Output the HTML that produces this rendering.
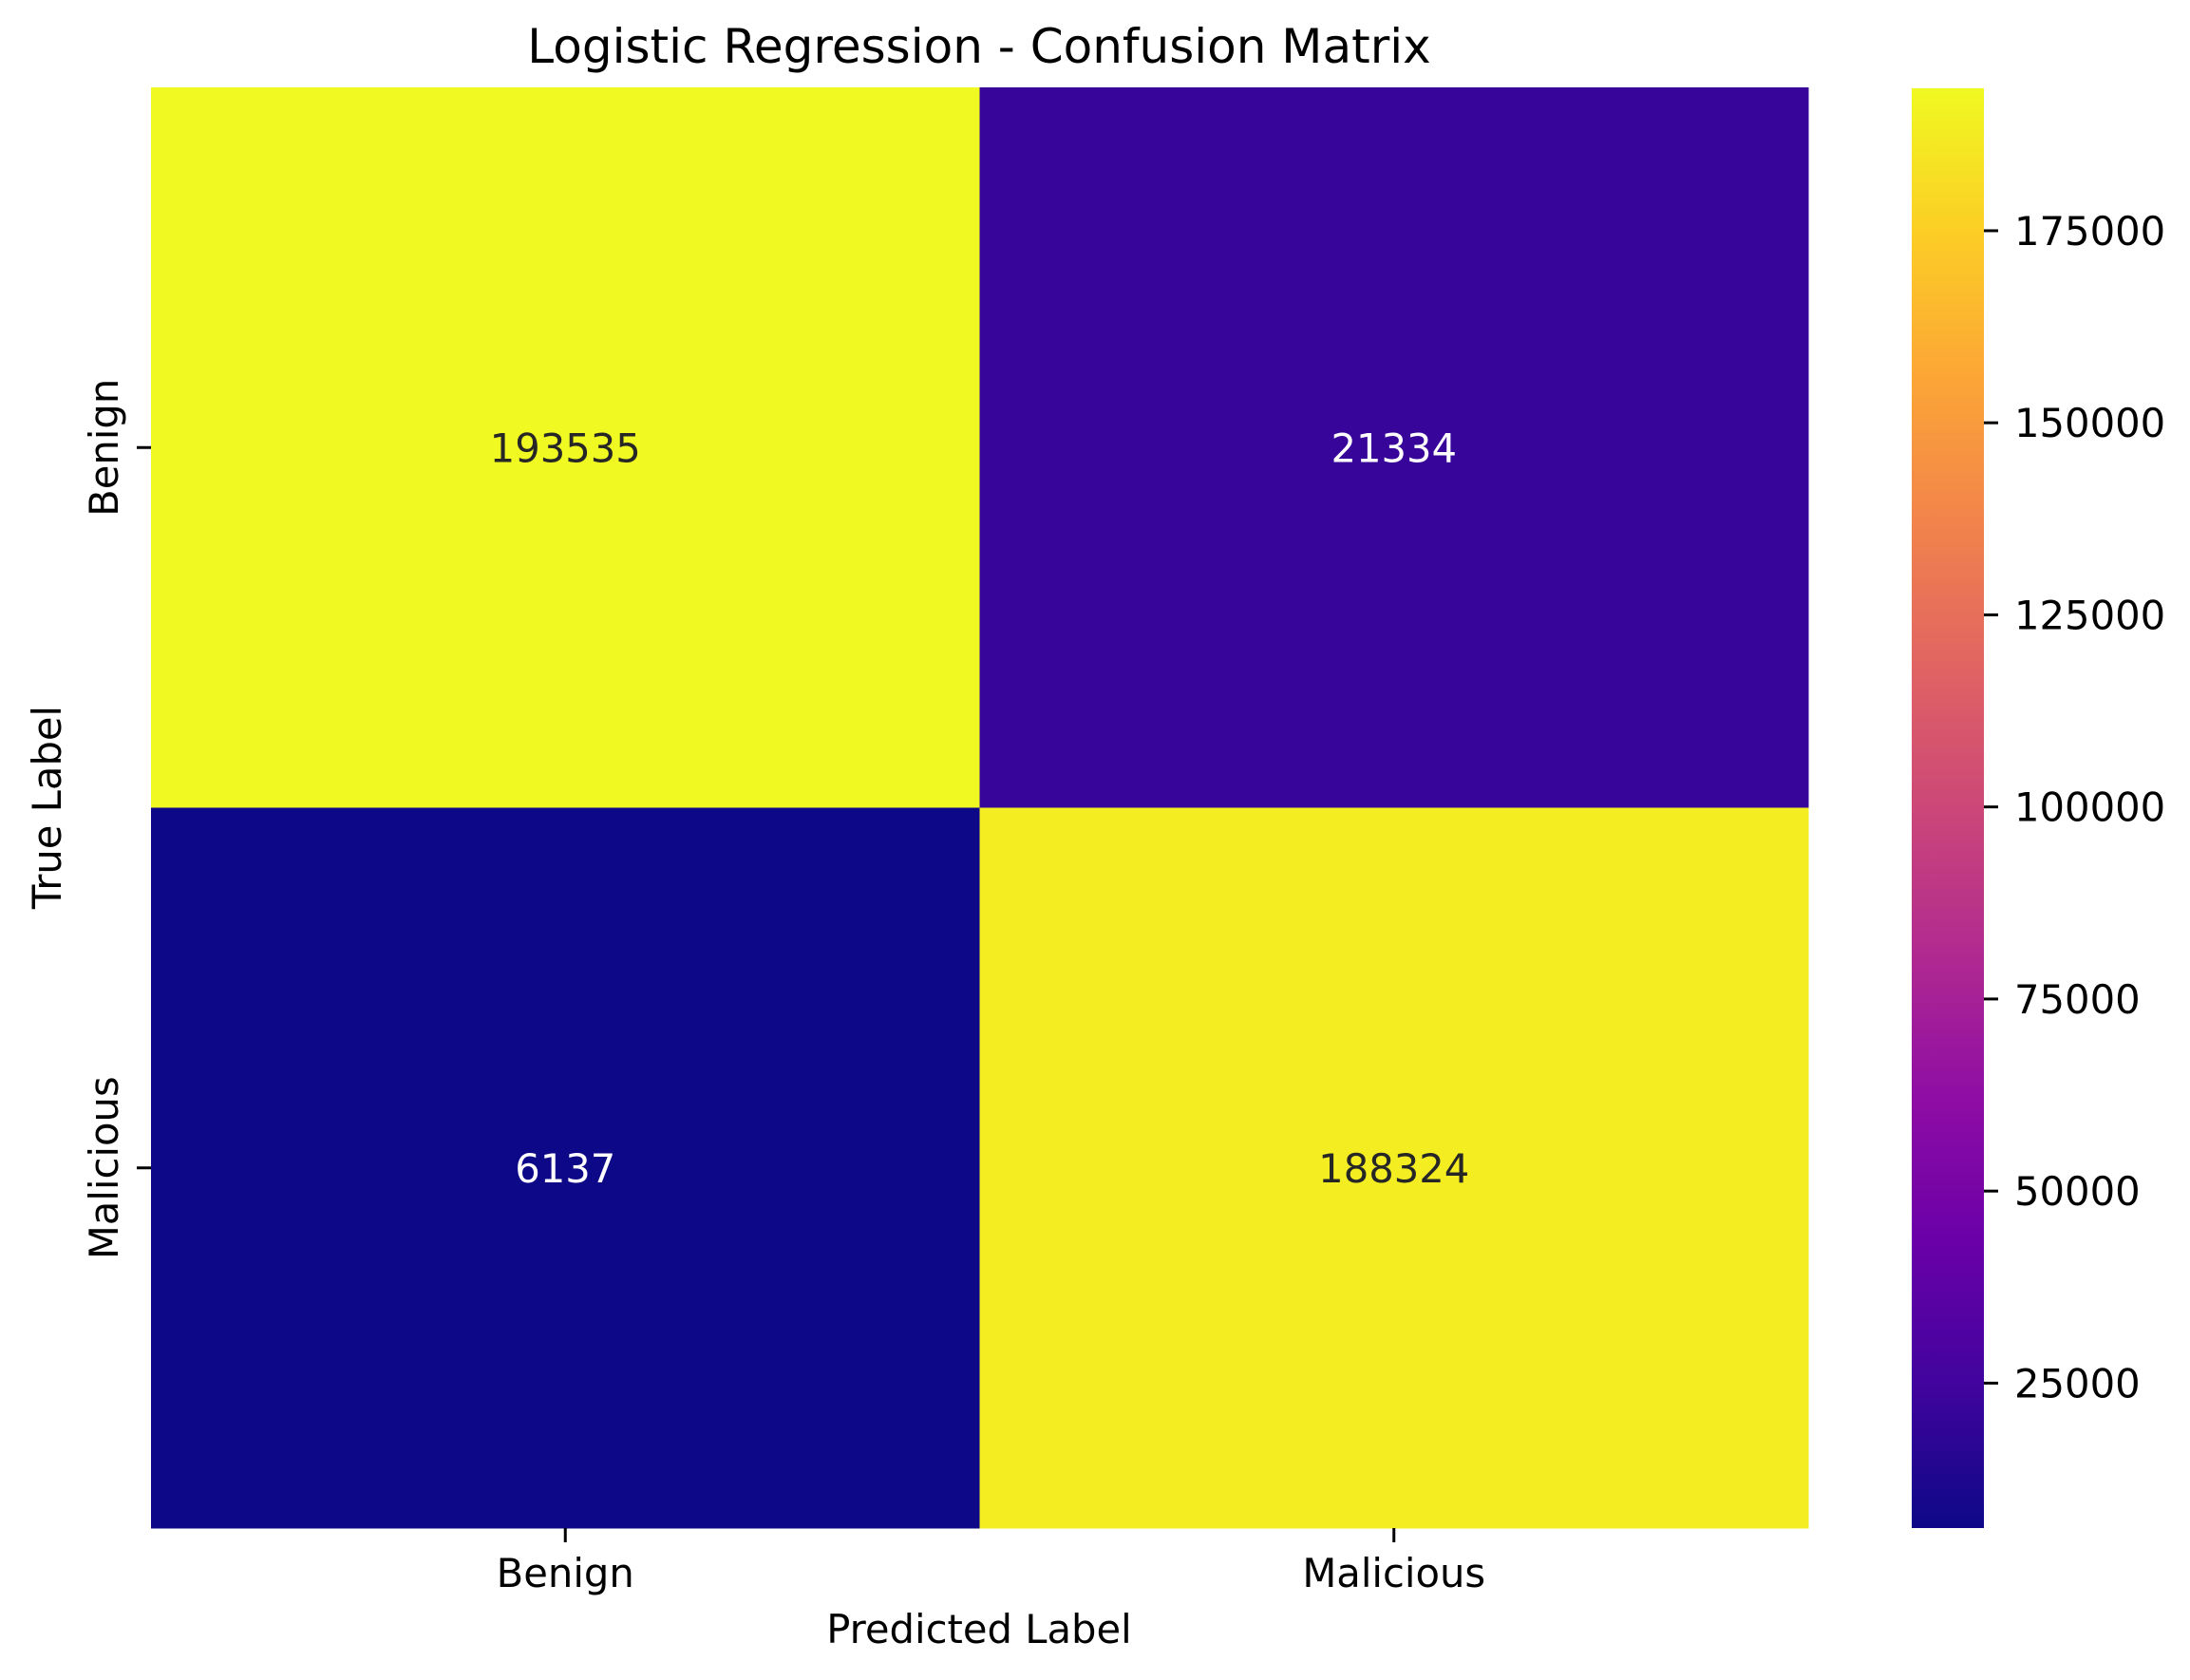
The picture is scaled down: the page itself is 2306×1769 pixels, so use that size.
<!DOCTYPE html>
<html><head><meta charset="utf-8"><style>
html,body{margin:0;padding:0;background:#fff;}
svg{display:block;font-family:"DejaVu Sans","Liberation Sans",sans-serif;}
</style></head><body>
<svg id="chart" width="2306" height="1769" xmlns="http://www.w3.org/2000/svg">
<defs>
<linearGradient id="plasma" x1="0" y1="1" x2="0" y2="0">
<stop offset="0" stop-color="#0d0887"/><stop offset="0.1" stop-color="#41049d"/><stop offset="0.2" stop-color="#6a00a8"/><stop offset="0.3" stop-color="#8f0da4"/><stop offset="0.4" stop-color="#b12a90"/><stop offset="0.5" stop-color="#cc4778"/><stop offset="0.6" stop-color="#e16462"/><stop offset="0.7" stop-color="#f2844b"/><stop offset="0.8" stop-color="#fca636"/><stop offset="0.9" stop-color="#fcce25"/><stop offset="1" stop-color="#f0f921"/>
</linearGradient>
</defs>
<text x="1031" y="66" font-size="50" text-anchor="middle" fill="#000">Logistic Regression - Confusion Matrix</text>
<g id="cells"></g>
<rect x="2013" y="93" width="76" height="1516" fill="url(#plasma)"/>
<g id="cbticks"></g>
<g id="axes"></g>
<text x="1031" y="1730" font-size="41.7" text-anchor="middle">Predicted Label</text>
<text transform="translate(64,850) rotate(-90)" font-size="41.7" text-anchor="middle">True Label</text>
</svg>
<script>
const categories = ["Benign", "Malicious"];
const rowBenign = [193535, 21334];
const rowMalicious = [6137, 188324];
const cbTicks = [25000, 50000, 75000, 100000, 125000, 150000, 175000];

const matrix = [rowBenign, rowMalicious];
const all = matrix.flat();
const vmin = Math.min(...all), vmax = Math.max(...all);
const L = 159, R = 1904, T = 92, B = 1609;
const cw = (R - L) / categories.length, ch = (B - T) / categories.length;
const cbT = 93, cbB = 1609, cbX = 2089;
const stops = ["#0d0887","#41049d","#6a00a8","#8f0da4","#b12a90","#cc4778","#e16462","#f2844b","#fca636","#fcce25","#f0f921"];
function hex(h){return [1,3,5].map(i=>parseInt(h.substr(i,2),16));}
function cmap(t){
  t=Math.max(0,Math.min(1,t));const p=t*10,i=Math.min(9,Math.floor(p)),f=p-i;
  const a=hex(stops[i]),b=hex(stops[i+1]);
  return a.map((v,k)=>Math.round(v+(b[k]-v)*f));
}
const NS="http://www.w3.org/2000/svg";
function mk(tag,attrs,parent){const e=document.createElementNS(NS,tag);for(const k in attrs)e.setAttribute(k,attrs[k]);parent.appendChild(e);return e;}
const cells=document.getElementById('cells');
matrix.forEach((row,r)=>row.forEach((v,c)=>{
  const t=(v-vmin)/(vmax-vmin);const col=cmap(t);
  const rc=mk('rect',{x:L+c*cw,y:T+r*ch,width:cw+0.5,height:ch+0.5,fill:`rgb(${col.join(',')})`},cells);
  
  
  const lum=0.299*col[0]+0.587*col[1]+0.114*col[2];
  const tx=mk('text',{x:L+(c+0.5)*cw,y:T+(r+0.5)*ch+15,'font-size':41.7,'text-anchor':'middle',fill:lum>128?'#262626':'#ffffff'},cells);
  tx.textContent=v;
  
  
}));
const cb=document.getElementById('cbticks');
function cbY(v){return cbB-(v-vmin)/(vmax-vmin)*(cbB-cbT);}
cbTicks.forEach(v=>{
  const y=cbY(v);
  const l=mk('line',{x1:cbX,x2:cbX+15,y1:y,y2:y,stroke:'#000','stroke-width':3},cb);
  
  
  const t=mk('text',{x:cbX+32,y:y+15,'font-size':41.7},cb);
  t.textContent=v;
  
  
});
const ax=document.getElementById('axes');
categories.forEach((c,i)=>{
  const x=L+(i+0.5)*cw;
  const l=mk('line',{x1:x,x2:x,y1:B,y2:B+15,stroke:'#000','stroke-width':3},ax);
  
  
  const t=mk('text',{x:x,y:B+62,'font-size':41.7,'text-anchor':'middle'},ax);
  t.textContent=c;
  
  
  const y=T+(i+0.5)*ch;
  const l2=mk('line',{x1:L-15,x2:L,y1:y,y2:y,stroke:'#000','stroke-width':3},ax);
  
  
  const t2=mk('text',{transform:`translate(${L-35},${y}) rotate(-90)`,'font-size':41.7,'text-anchor':'middle'},ax);
  t2.textContent=c;
  
  
});
</script>
</body></html>
